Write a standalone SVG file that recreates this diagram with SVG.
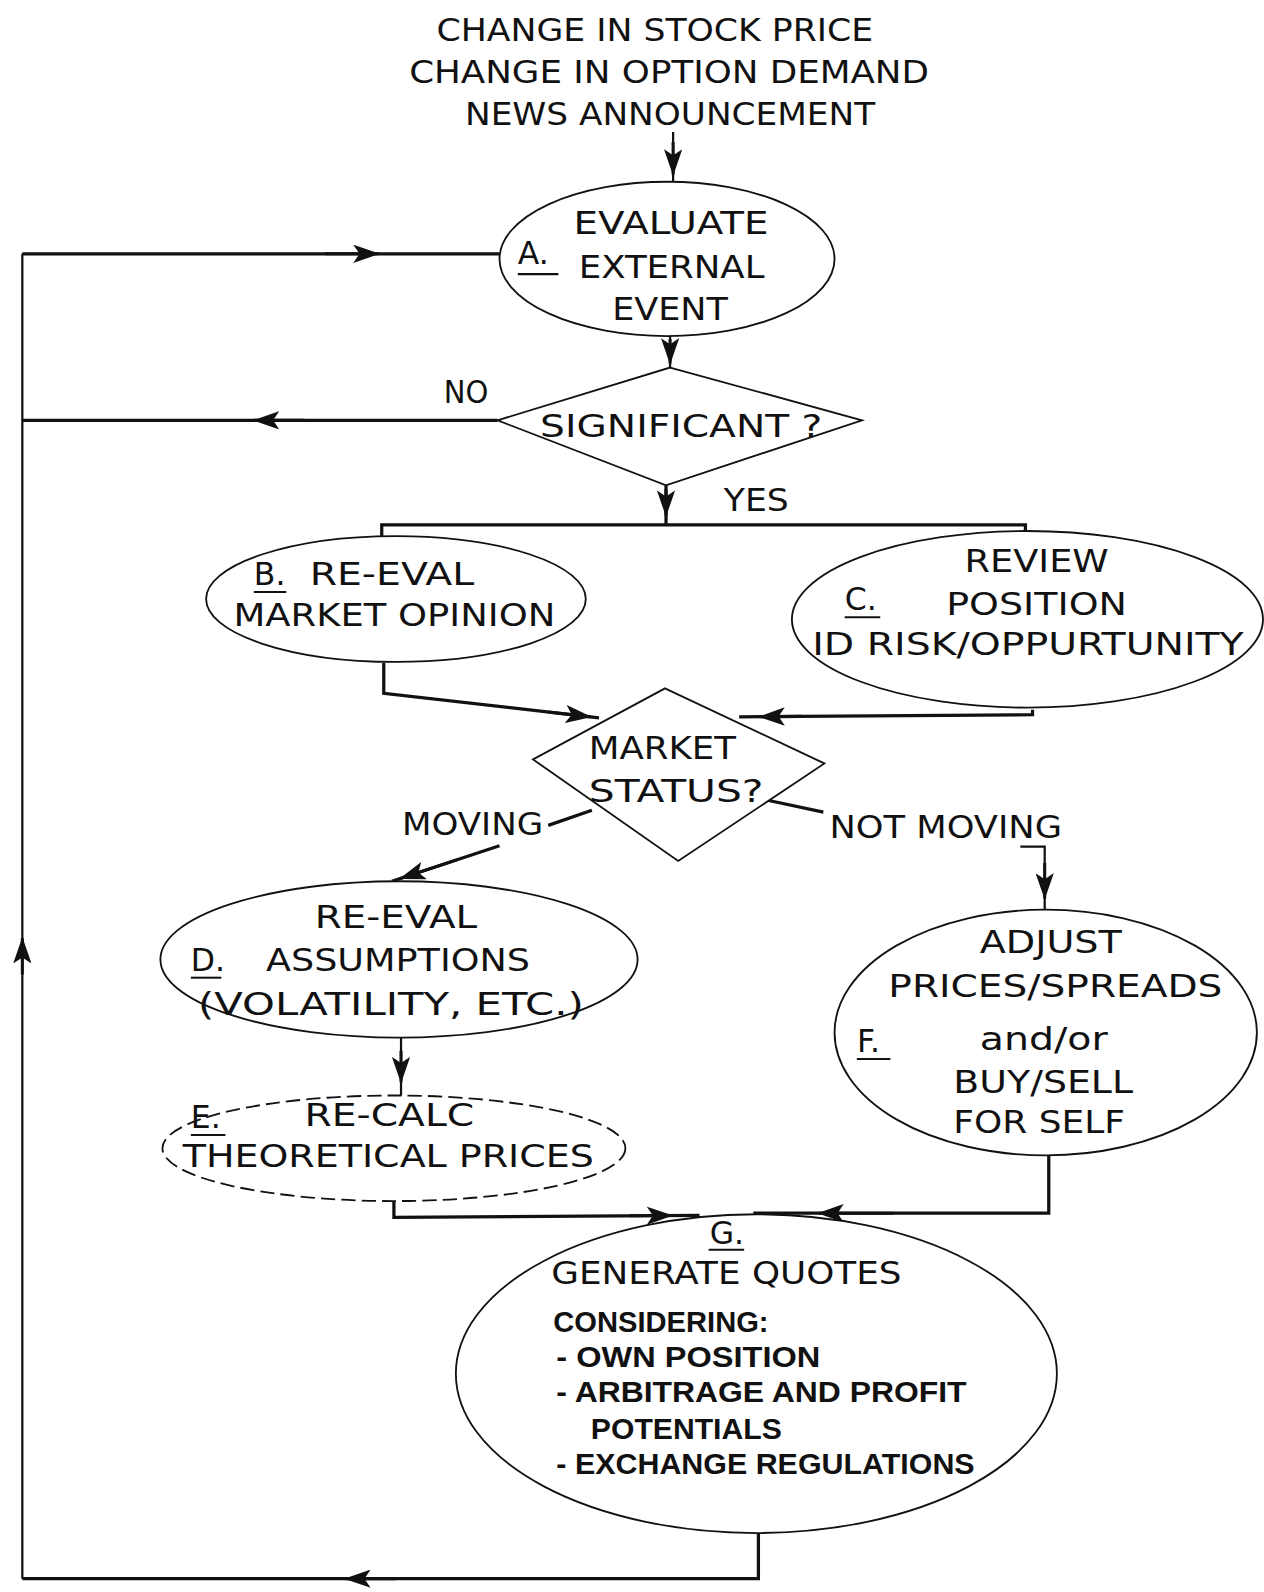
<svg xmlns="http://www.w3.org/2000/svg" width="1264" height="1592" viewBox="0 0 1264 1592">
<defs>
<marker id="ah" viewBox="0 0 26 18" refX="25" refY="9" markerWidth="26" markerHeight="18" markerUnits="userSpaceOnUse" orient="auto">
<path d="M0,0 L26,9 L0,18 L6,9 Z" fill="#111"/>
</marker>
<style>
.t{font-family:"DejaVu Sans","Liberation Sans",Arial,sans-serif;font-size:31px;fill:#111}
.g{font-family:"Liberation Sans",Arial,sans-serif;font-size:29px;fill:#111;font-weight:bold}
.n{fill:#fff;stroke:#111;stroke-width:1.8}
.d{stroke-dasharray:14 6}
.c{fill:none;stroke:#111;stroke-width:3.2}
.l{fill:none;stroke:#111;stroke-width:2.2}
.a{fill:none;stroke:#111;stroke-width:3;marker-end:url(#ah)}
.u{stroke:#111;stroke-width:2}
</style>
</defs>
<rect width="1264" height="1592" fill="#fff"/>
<g transform="scale(1.01526)">
<g id="inputs">
<text class="t" x="430" y="40" textLength="430" lengthAdjust="spacingAndGlyphs">CHANGE IN STOCK PRICE</text>
<text class="t" x="403" y="82" textLength="512" lengthAdjust="spacingAndGlyphs">CHANGE IN OPTION DEMAND</text>
<text class="t" x="458" y="123" textLength="404" lengthAdjust="spacingAndGlyphs">NEWS ANNOUNCEMENT</text>
</g>
<g id="connectors">
<line class="l" x1="663" y1="130" x2="663" y2="180"/>
<line class="a" x1="663" y1="140" x2="663" y2="172"/>
<line class="l" x1="660" y1="331" x2="660" y2="362"/>
<line class="a" x1="660" y1="334" x2="660" y2="358"/>
<line class="c" x1="656" y1="478" x2="656" y2="517"/>
<line class="a" x1="656" y1="482" x2="656" y2="508"/>
<polyline class="c" points="376,529 376,517 1010,517 1010,526"/>
<polyline class="c" points="378,653 378,683 590,707"/>
<line class="a" x1="540" y1="701.4" x2="582" y2="706.1"/>
<polyline class="c" points="1017,699 1017,704 728,706"/>
<line class="a" x1="790" y1="705.6" x2="748" y2="705.9"/>
<line class="c" x1="583" y1="798" x2="540" y2="813"/>
<line class="c" x1="492" y1="833" x2="386" y2="868"/>
<line class="a" x1="450" y1="846.9" x2="394" y2="865.4"/>
<line class="c" x1="755" y1="788" x2="811" y2="800"/>
<polyline class="l" points="1005,834 1029,834 1029,896"/>
<line class="a" x1="1029" y1="850" x2="1029" y2="885"/>
<line class="l" x1="395" y1="1022" x2="395" y2="1080"/>
<line class="a" x1="395" y1="1035" x2="395" y2="1066"/>
<polyline class="c" points="388,1183 388,1199 689,1197"/>
<line class="a" x1="620" y1="1197.5" x2="662" y2="1197.2"/>
<polyline class="c" points="1033,1138 1033,1195 742,1195"/>
<line class="a" x1="880" y1="1195" x2="806" y2="1195"/>
<polyline class="c" points="747,1510 747,1555 22,1555"/>
<line class="a" x1="390" y1="1555" x2="340" y2="1555"/>
<polyline class="l" points="22,1555 22,250"/>
<line class="a" x1="22" y1="960" x2="22" y2="924"/>
<line class="c" x1="22" y1="250" x2="492" y2="250"/>
<line class="a" x1="320" y1="250" x2="373" y2="250"/>
<line class="c" x1="490" y1="414" x2="22" y2="414"/>
<line class="a" x1="300" y1="414" x2="250" y2="414"/>
<text class="t" x="437" y="397" textLength="44" lengthAdjust="spacingAndGlyphs">NO</text>
<text class="t" x="713" y="503" textLength="64" lengthAdjust="spacingAndGlyphs">YES</text>
<text class="t" x="396" y="822" textLength="139" lengthAdjust="spacingAndGlyphs">MOVING</text>
<text class="t" x="817" y="825" textLength="229" lengthAdjust="spacingAndGlyphs">NOT MOVING</text>
</g>
<g id="nodeA">
<ellipse class="n" cx="657" cy="255" rx="165" ry="76"/>
<text class="t" x="565" y="230" textLength="192" lengthAdjust="spacingAndGlyphs">EVALUATE</text>
<text class="t" x="510" y="260">A.</text>
<line class="u" x1="510" y1="270" x2="550" y2="270"/>
<text class="t" x="570" y="274" textLength="183" lengthAdjust="spacingAndGlyphs">EXTERNAL</text>
<text class="t" x="603" y="315" textLength="114" lengthAdjust="spacingAndGlyphs">EVENT</text>
</g>
<g id="decisionSignificant">
<polygon class="n" points="660,362 849,414 656,478 490,414"/>
<text class="t" x="532" y="430" textLength="278" lengthAdjust="spacingAndGlyphs">SIGNIFICANT ?</text>
</g>
<g id="nodeB">
<ellipse class="n" cx="390" cy="590" rx="187" ry="62"/>
<text class="t" x="250" y="576">B.</text>
<line class="u" x1="250" y1="583" x2="282" y2="583"/>
<text class="t" x="305" y="576" textLength="162" lengthAdjust="spacingAndGlyphs">RE-EVAL</text>
<text class="t" x="230" y="617" textLength="317" lengthAdjust="spacingAndGlyphs">MARKET OPINION</text>
</g>
<g id="nodeC">
<ellipse class="n" cx="1012" cy="610" rx="232" ry="87"/>
<text class="t" x="950" y="563" textLength="142" lengthAdjust="spacingAndGlyphs">REVIEW</text>
<text class="t" x="832" y="601">C.</text>
<line class="u" x1="832" y1="608" x2="867" y2="608"/>
<text class="t" x="932" y="606" textLength="178" lengthAdjust="spacingAndGlyphs">POSITION</text>
<text class="t" x="800" y="645" textLength="425" lengthAdjust="spacingAndGlyphs">ID RISK/OPPURTUNITY</text>
</g>
<g id="decisionMarket">
<polygon class="n" points="655,678 812,752 668,848 525,748"/>
<text class="t" x="580" y="748" textLength="145" lengthAdjust="spacingAndGlyphs">MARKET</text>
<text class="t" x="580" y="790" textLength="172" lengthAdjust="spacingAndGlyphs">STATUS?</text>
</g>
<g id="nodeD">
<ellipse class="n" cx="393" cy="945" rx="235" ry="77"/>
<text class="t" x="310" y="914" textLength="160" lengthAdjust="spacingAndGlyphs">RE-EVAL</text>
<text class="t" x="188" y="956">D.</text>
<line class="u" x1="188" y1="963" x2="218" y2="963"/>
<text class="t" x="262" y="956" textLength="260" lengthAdjust="spacingAndGlyphs">ASSUMPTIONS</text>
<text class="t" x="195" y="1000" textLength="380" lengthAdjust="spacingAndGlyphs">(VOLATILITY, ETC.)</text>
</g>
<g id="nodeE">
<ellipse class="n d" cx="388" cy="1131" rx="228" ry="52"/>
<text class="t" x="188" y="1111">E.</text>
<line class="u" x1="188" y1="1118" x2="222" y2="1118"/>
<text class="t" x="300" y="1109" textLength="167" lengthAdjust="spacingAndGlyphs">RE-CALC</text>
<text class="t" x="180" y="1149" textLength="405" lengthAdjust="spacingAndGlyphs">THEORETICAL PRICES</text>
</g>
<g id="nodeF">
<ellipse class="n" cx="1030" cy="1017" rx="208" ry="121"/>
<text class="t" x="965" y="939" textLength="140" lengthAdjust="spacingAndGlyphs">ADJUST</text>
<text class="t" x="875" y="982" textLength="329" lengthAdjust="spacingAndGlyphs">PRICES/SPREADS</text>
<text class="t" x="844" y="1036">F.</text>
<line class="u" x1="844" y1="1043" x2="877" y2="1043"/>
<text class="t" x="965" y="1034" textLength="126" lengthAdjust="spacingAndGlyphs">and/or</text>
<text class="t" x="939" y="1077" textLength="177" lengthAdjust="spacingAndGlyphs">BUY/SELL</text>
<text class="t" x="939" y="1116" textLength="169" lengthAdjust="spacingAndGlyphs">FOR SELF</text>
</g>
<g id="nodeG">
<ellipse class="n" cx="745" cy="1353" rx="296" ry="157"/>
<text class="t" x="699" y="1225">G.</text>
<line class="u" x1="698" y1="1231" x2="733" y2="1231"/>
<text class="t" x="543" y="1265" textLength="345" lengthAdjust="spacingAndGlyphs">GENERATE QUOTES</text>
<text class="g" x="545" y="1312" textLength="212" lengthAdjust="spacingAndGlyphs">CONSIDERING:</text>
<text class="g" x="548" y="1346" textLength="260" lengthAdjust="spacingAndGlyphs">- OWN POSITION</text>
<text class="g" x="548" y="1381" textLength="404" lengthAdjust="spacingAndGlyphs">- ARBITRAGE AND PROFIT</text>
<text class="g" x="582" y="1417" textLength="188" lengthAdjust="spacingAndGlyphs">POTENTIALS</text>
<text class="g" x="548" y="1452" textLength="412" lengthAdjust="spacingAndGlyphs">- EXCHANGE REGULATIONS</text>
</g>
</g>
</svg>
